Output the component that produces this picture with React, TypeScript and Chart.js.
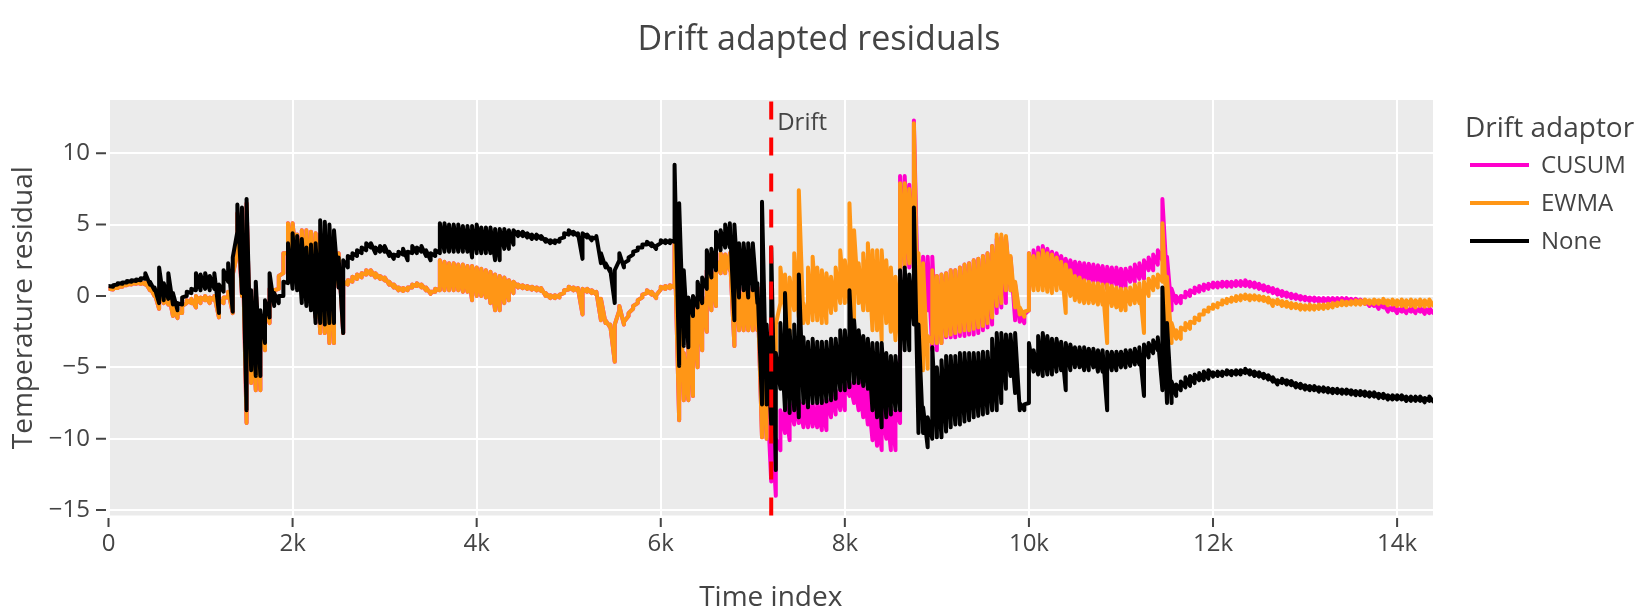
import { useEffect, useRef } from "react";
import { Chart, registerables } from "chart.js";

Chart.register(...registerables);

const TITLE = "Drift adapted residuals";
const X_TITLE = "Time index";
const Y_TITLE = "Temperature residual";
const LEGEND_TITLE = "Drift adaptor";
const DRIFT_LABEL = "Drift";
const DRIFT_AT = 7200;

// every series every 50 time steps (0 .. 14400) as the
// bottom and top of its noise band; where the trace is clean both are close
const STEP = 50;
const X_MAX = 14390;
const Y_MIN = -15.38;
const Y_MAX = 13.73;
const X_TICKS = [0, 2000, 4000, 6000, 8000, 10000, 12000, 14000];
const Y_TICKS = [-15, -10, -5, 0, 5, 10];

const SERIES_NAMES = ["CUSUM", "EWMA", "None"];
const SERIES_COLORS = ["#ff00cc", "#ff9616", "#000000"];

const noneLo = [
  0.6, 0.65, 0.8, 0.85, 0.95, 1.0, 1.05, 1.1, 1.2, 0.8,
  0.4, -0.5, -0.3, -0.2, -0.6, -1.0, -0.6, 0.0, 0.2, 0.4,
  0.4, 0.5, 0.4, 0.5, -1.2, 0.3, 1.0, -1.1, 4.5, 0.2,
  -8.0, -5.2, -5.6, -5.6, -3.3, -1.5, -0.7, -0.5, 0.0, 0.9,
  0.5, 0.4, -0.5, -0.7, -1.0, -1.9, -1.9, -2.0, -1.9, -1.9,
  0.6, -2.6, 2.0, 2.6, 2.8, 3.0, 3.2, 3.4, 3.0, 3.1,
  3.1, 2.8, 2.6, 2.8, 2.9, 2.5, 3.0, 3.0, 3.1, 2.8,
  2.5, 2.8, 3.0, 3.1, 3.1, 3.1, 3.1, 3.1, 3.1, 2.7,
  3.0, 3.0, 3.0, 3.0, 2.5, 2.5, 3.3, 3.3, 3.6, 4.2,
  4.2, 4.1, 4.0, 4.0, 4.0, 3.8, 3.7, 3.7, 3.8, 4.1,
  4.3, 4.3, 4.2, 2.6, 4.1, 3.9, 4.0, 2.3, 2.0, 1.7,
  -0.5, 2.5, 2.0, 2.5, 2.9, 3.2, 3.4, 3.6, 3.5, 3.3,
  3.7, 3.7, 3.7, 3.8, -4.9, -3.5, -3.6, -1.4, -0.8, -0.5,
  0.5, 1.3, 1.8, 3.2, 3.4, 3.4, -1.7, -0.1, 0.4, -0.1,
  0.4, -0.5, -7.6, -7.6, -9.0, -12.2, -6.5, -8.0, -8.2, -8.0,
  -8.5, -7.5, -7.8, -7.5, -7.5, -7.5, -7.4, -7.3, -7.2, -6.6,
  -6.6, -6.4, -6.1, -6.1, -6.3, -6.5, -8.0, -8.5, -9.2, -8.5,
  -8.3, -8.0, -8.0, -3.8, -3.8, -2.0, -9.6, -9.6, -10.6, -10.0,
  -9.9, -9.9, -9.5, -9.2, -9.0, -9.0, -8.8, -8.7, -8.5, -8.4,
  -8.3, -8.2, -8.0, -8.0, -7.5, -6.5, -5.6, -6.8, -8.0, -8.0,
  -7.5, -5.3, -5.5, -5.6, -5.5, -5.5, -5.3, -5.2, -6.6, -5.2,
  -5.0, -5.0, -5.2, -5.2, -5.0, -5.3, -5.3, -8.0, -5.2, -5.2,
  -5.0, -5.0, -4.9, -4.8, -4.8, -7.0, -4.3, -4.0, -3.8, -6.6,
  -7.5, -7.5, -7.0, -6.6, -6.4, -6.3, -6.1, -5.9, -5.9, -5.8,
  -5.65, -5.6, -5.6, -5.5, -5.55, -5.5, -5.5, -5.4, -5.5, -5.6,
  -5.65, -5.75, -5.85, -6.0, -6.2, -6.1, -6.2, -6.25, -6.4, -6.45,
  -6.55, -6.6, -6.6, -6.7, -6.7, -6.75, -6.8, -6.8, -6.85, -6.85,
  -6.9, -6.95, -6.95, -7.0, -7.05, -7.05, -7.15, -7.15, -7.25, -7.25,
  -7.25, -7.25, -7.35, -7.35, -7.35, -7.35, -7.45, -7.35, -7.45,
];

const noneHi = [
  0.7, 0.75, 0.9, 0.95, 1.05, 1.1, 1.15, 1.25, 1.6, 1.0,
  0.6, 2.0, 0.9, 1.6, 0.2, -0.5, -0.1, 0.3, 0.5, 1.6,
  1.5, 1.6, 1.4, 1.6, 0.8, 1.8, 2.3, 2.7, 6.4, 6.2,
  6.8, 0.4, 1.0, -1.0, -0.3, 1.6, 0.2, 0.0, 1.0, 3.7,
  4.4, 4.2, 4.0, 3.4, 3.6, 3.7, 5.3, 5.2, 5.0, 4.6,
  2.7, 2.5, 2.8, 3.0, 3.2, 3.4, 3.7, 3.7, 3.4, 3.5,
  3.5, 3.1, 2.9, 3.1, 3.3, 3.1, 3.5, 3.4, 3.5, 3.2,
  3.0, 3.2, 5.1, 5.1, 5.0, 5.0, 5.0, 4.9, 4.9, 4.9,
  5.0, 4.8, 4.8, 4.8, 4.7, 4.7, 4.7, 4.6, 4.6, 4.5,
  4.5, 4.4, 4.3, 4.3, 4.2, 4.0, 3.9, 3.9, 4.0, 4.4,
  4.6, 4.5, 4.4, 4.4, 4.3, 4.1, 4.2, 3.0, 2.3, 1.9,
  1.8, 3.0, 2.3, 2.7, 3.1, 3.4, 3.6, 3.8, 3.7, 3.5,
  3.9, 3.9, 3.9, 9.2, 6.5, 1.8, -0.1, 0.0, 1.0, 1.3,
  3.2, 3.3, 4.5, 4.6, 5.0, 5.1, 5.0, 3.7, 3.7, 3.7,
  3.7, 0.9, 6.6, -2.0, 3.4, -4.0, -1.9, 0.2, -2.4, -2.0,
  1.5, -2.9, -3.2, -3.0, -3.2, -3.2, -3.2, -3.0, -3.0, -2.4,
  -2.4, 0.4, -1.7, -2.4, -2.8, -3.0, -3.3, -3.3, -3.3, -4.0,
  -4.2, -4.2, 1.8, 2.0, 1.5, 6.2, -2.0, -7.8, -8.5, -3.6,
  -5.0, -4.5, -4.2, -4.2, -4.2, -4.0, -4.0, -4.0, -4.0, -4.0,
  -3.9, -3.9, -3.0, -2.6, -2.6, -2.7, -2.7, -2.6, -7.5, -7.6,
  -3.3, -3.8, -2.8, -2.6, -2.8, -3.0, -3.0, -3.2, -3.3, -3.4,
  -3.6, -3.6, -3.6, -3.7, -3.7, -3.8, -3.8, -3.9, -3.9, -3.9,
  -3.9, -3.8, -3.8, -3.7, -3.6, -3.4, -3.3, -3.1, -2.9, 0.6,
  -1.9, -6.0, -6.2, -6.0, -5.7, -5.6, -5.5, -5.4, -5.3, -5.2,
  -5.35, -5.3, -5.3, -5.2, -5.25, -5.2, -5.2, -5.1, -5.2, -5.3,
  -5.35, -5.45, -5.55, -5.7, -5.9, -5.8, -5.9, -5.95, -6.1, -6.15,
  -6.25, -6.3, -6.3, -6.4, -6.4, -6.45, -6.5, -6.5, -6.55, -6.55,
  -6.6, -6.65, -6.65, -6.7, -6.75, -6.75, -6.85, -6.85, -6.95, -6.95,
  -6.95, -6.95, -7.05, -7.05, -7.05, -7.05, -7.15, -7.05, -7.15,
];

const ewmaLo = [
  0.4, 0.45, 0.55, 0.65, 0.75, 0.8, 0.85, 0.85, 0.8, 0.4,
  0.0, -0.9, -0.5, -0.6, -1.4, -1.55, -1.2, -0.5, -0.5, -0.8,
  -0.5, -0.3, -0.5, -0.3, -1.5, -0.5, -0.1, -1.2, 3.0, 0.0,
  -8.9, -6.1, -6.6, -6.6, -3.8, -1.9, -0.3, 0.5, 1.6, 3.0,
  2.3, 2.0, 0.5, 0.0, -0.5, -1.5, -2.6, -2.6, -3.3, -3.3,
  0.6, -2.6, 0.8, 1.0, 1.2, 1.3, 1.5, 1.5, 1.3, 1.2,
  1.1, 0.8, 0.6, 0.4, 0.35, 0.4, 0.6, 0.7, 0.6, 0.4,
  0.15, 0.3, 0.4, 0.4, 0.4, 0.4, 0.4, 0.3, 0.3, -0.3,
  0.0, 0.0, -0.1, -0.5, -1.0, -1.0, -0.5, -0.3, 0.2, 0.6,
  0.55, 0.5, 0.45, 0.4, 0.35, 0.0, -0.15, -0.15, -0.1, 0.2,
  0.45, 0.4, 0.35, -1.3, 0.3, 0.2, 0.1, -1.7, -1.9, -2.2,
  -4.6, -1.0, -2.0, -1.4, -0.9, -0.5, -0.1, 0.2, 0.1, -0.15,
  0.45, 0.5, 0.55, 0.6, -8.7, -7.3, -7.3, -7.0, -5.0, -3.8,
  -2.5, -1.0, -0.7, 1.6, 1.6, 1.8, -3.5, -2.4, -2.4, -2.4,
  -2.4, -2.4, -9.9, -10.0, -6.1, -5.0, -0.5, -1.0, -3.5, -1.0,
  -1.5, -1.9, -1.9, -1.7, -1.7, -1.9, -1.9, -1.2, -1.0, -0.5,
  -0.5, -0.5, -1.7, -0.5, -1.0, -1.0, -2.4, -2.4, -3.1, -1.9,
  -2.5, -3.1, -3.1, 2.0, 2.3, 2.0, -4.25, -5.2, -5.1, -3.3,
  -3.3, -3.3, -2.8, -2.7, -2.6, -2.5, -2.4, -2.4, -2.3, -2.2,
  -2.1, -1.9, -1.5, -0.7, -0.5, 0.4, 0.4, -0.8, -1.3, -1.45,
  -1.0, 0.4, 0.4, 0.4, 0.3, 0.2, 0.4, 0.5, -1.2, 0.0,
  -0.3, -0.4, -0.5, -0.5, -0.5, -0.6, -0.6, -3.3, -0.7, -0.8,
  -1.0, -1.0, -0.6, -0.5, -0.5, -2.6, 0.0, 0.4, 0.6, 1.0,
  -1.7, -3.3, -3.0, -3.0, -2.4, -2.3, -1.9, -1.7, -1.3, -1.1,
  -0.9, -0.8, -0.6, -0.5, -0.4, -0.35, -0.3, -0.2, -0.3, -0.25,
  -0.3, -0.35, -0.45, -0.7, -0.55, -0.7, -0.75, -0.85, -0.85, -0.95,
  -0.95, -0.95, -0.95, -0.9, -0.9, -0.85, -0.8, -0.7, -0.65, -0.65,
  -0.6, -0.6, -0.6, -0.55, -0.55, -0.55, -0.55, -0.5, -0.65, -0.6,
  -0.7, -0.7, -0.8, -0.7, -0.8, -0.7, -0.75, -0.7, -0.75,
];

const ewmaHi = [
  0.5, 0.55, 0.65, 0.75, 0.85, 0.9, 0.95, 0.95, 0.95, 0.6,
  0.2, 0.5, 0.0, 0.3, -0.6, -1.2, -0.7, -0.3, -0.2, 0.0,
  -0.1, 0.0, -0.1, 0.0, -0.3, -0.1, 0.3, 1.5, 5.8, 5.5,
  6.5, 0.0, 0.5, -1.5, -0.8, 0.5, 0.4, 1.4, 3.0, 5.1,
  5.1, 4.3, 4.6, 4.6, 4.5, 4.4, 4.3, 4.0, 3.6, 3.2,
  3.0, 1.0, 1.1, 1.35, 1.5, 1.6, 1.8, 1.8, 1.6, 1.4,
  1.3, 1.0, 0.8, 0.6, 0.55, 0.6, 0.8, 0.9, 0.8, 0.6,
  0.3, 0.5, 2.5, 2.4, 2.3, 2.3, 2.2, 2.2, 2.1, 2.1,
  2.0, 1.9, 1.8, 1.7, 1.5, 1.4, 1.3, 1.1, 1.0, 0.8,
  0.75, 0.7, 0.65, 0.6, 0.55, 0.2, 0.05, 0.05, 0.1, 0.4,
  0.65, 0.6, 0.55, 0.5, 0.5, 0.4, 0.3, -0.2, -1.7, -2.0,
  -2.0, -0.7, -1.8, -1.2, -0.7, -0.3, 0.1, 0.4, 0.3, 0.05,
  0.65, 0.7, 0.75, 3.8, 3.0, -4.0, -0.5, -0.5, -0.1, 0.0,
  1.8, 1.8, 2.5, 3.0, 2.9, 3.0, 2.8, 0.4, 0.6, 0.6,
  0.65, 0.6, -2.4, -6.0, -3.0, -2.0, 2.0, 1.5, 1.3, 3.0,
  7.4, -0.5, 2.0, 2.75, 2.0, 1.8, 1.6, 1.35, 2.0, 3.2,
  2.5, 6.5, 4.6, 2.3, 3.0, 3.7, 3.2, 3.2, 3.2, 2.5,
  2.0, 1.35, 7.9, 7.9, 7.5, 12.1, 3.0, 2.3, -2.8, 1.8,
  1.4, 1.5, 1.6, 1.8, 1.8, 2.0, 2.2, 2.3, 2.5, 2.6,
  2.8, 3.0, 3.5, 4.3, 4.3, 4.2, 2.8, 1.0, -0.8, -1.1,
  3.0, 2.8, 3.0, 3.2, 3.0, 2.9, 2.7, 2.4, 2.2, 1.8,
  1.4, 1.3, 1.1, 1.0, 0.9, 0.9, 0.8, 0.8, 0.7, 0.6,
  0.5, 0.5, 0.6, 0.8, 0.9, 1.0, 1.2, 1.35, 1.5, 5.1,
  1.35, -1.9, -2.4, -2.2, -1.9, -1.8, -1.5, -1.3, -1.0, -0.8,
  -0.6, -0.5, -0.3, -0.2, -0.1, 0.0, 0.05, 0.1, 0.05, 0.05,
  0.0, -0.05, -0.1, -0.3, -0.25, -0.35, -0.4, -0.5, -0.55, -0.6,
  -0.65, -0.6, -0.65, -0.6, -0.6, -0.55, -0.5, -0.45, -0.35, -0.4,
  -0.35, -0.3, -0.3, -0.25, -0.3, -0.25, -0.3, -0.2, -0.3, -0.25,
  -0.3, -0.25, -0.3, -0.25, -0.3, -0.25, -0.3, -0.25, -0.3,
];

// CUSUM reads the same as EWMA up to t = 7050, after that it separates
const CUSUM_SPLIT = 142;
const cusumLoTail = [
  -9.9, -10.0, -13.0, -14.0, -10.8, -9.6, -10.1, -9.0,
  -8.9, -9.2, -9.2, -9.15, -9.2, -9.4, -9.4, -8.5, -8.3, -8.0,
  -8.0, -7.0, -7.5, -8.0, -8.5, -9.0, -10.1, -10.5, -10.8, -10.0,
  -10.8, -10.8, -8.9, 2.0, 2.0, 2.0, -1.9, -1.9, -1.0, -3.8,
  -3.8, -3.3, -2.9, -2.9, -2.9, -2.8, -2.8, -2.7, -2.7, -2.6,
  -2.4, -2.2, -2.0, -1.2, -0.8, -0.5, 0.4, -1.7, -1.8, -1.9,
  -1.0, 1.0, 1.2, 1.2, 1.4, 1.4, 1.4, 1.4, 1.3, 1.3,
  1.2, 1.2, 1.1, 1.1, 1.0, 1.0, 0.9, 0.5, 0.8, 0.8,
  0.6, 0.6, 1.0, 1.0, 1.2, 1.2, 1.8, 1.8, 2.2, 2.5,
  1.0, -1.0, -0.5, -0.5, -0.1, 0.0, 0.2, 0.3, 0.4, 0.5,
  0.6, 0.6, 0.65, 0.65, 0.65, 0.7, 0.7, 0.7, 0.65, 0.6,
  0.5, 0.4, 0.3, 0.2, 0.1, 0.0, -0.05, -0.15, -0.2, -0.25,
  -0.3, -0.35, -0.35, -0.4, -0.4, -0.4, -0.4, -0.4, -0.4, -0.4,
  -0.45, -0.45, -0.5, -0.55, -0.7, -0.7, -0.9, -0.8, -1.1, -1.0,
  -1.2, -1.1, -1.2, -1.1, -1.2, -1.1, -1.25, -1.2, -1.25,
];
const cusumHiTail = [
  -2.4, -6.0, -8.0, -10.0, -8.0, -7.5, -7.5, -7.4,
  -7.3, -7.5, -7.5, -7.6, -7.5, -7.3, -7.2, -6.8, -6.6, -6.2,
  -6.1, -6.0, -5.9, -5.7, -6.2, -6.6, -7.3, -7.5, -7.5, -7.6,
  -7.8, -8.0, 8.4, 8.4, 7.8, 12.3, 2.5, 2.75, 2.75, 2.75,
  1.4, 1.5, 1.6, 1.8, 1.8, 2.0, 2.2, 2.3, 2.5, 2.6,
  2.8, 3.0, 3.5, 4.0, 4.1, 4.0, 2.7, 0.8, -1.2, -1.3,
  3.0, 3.2, 3.4, 3.5, 3.3, 3.1, 3.0, 2.8, 2.6, 2.5,
  2.4, 2.35, 2.3, 2.25, 2.2, 2.15, 2.1, 2.05, 2.0, 2.0,
  1.9, 1.9, 2.0, 2.2, 2.3, 2.5, 2.7, 2.9, 3.2, 6.8,
  2.75, 0.5, 0.0, 0.0, 0.3, 0.4, 0.6, 0.7, 0.8, 0.85,
  0.95, 0.95, 1.0, 1.0, 1.0, 1.05, 1.05, 1.1, 1.0, 0.95,
  0.85, 0.75, 0.65, 0.55, 0.45, 0.35, 0.25, 0.15, 0.1, 0.0,
  -0.05, -0.1, -0.1, -0.15, -0.15, -0.15, -0.15, -0.15, -0.15, -0.15,
  -0.2, -0.2, -0.25, -0.3, -0.4, -0.4, -0.6, -0.5, -0.8, -0.7,
  -0.9, -0.8, -0.9, -0.8, -0.9, -0.8, -0.9, -0.85, -0.9,
];
const cusumLo = ewmaLo.slice(0, CUSUM_SPLIT).concat(cusumLoTail);
const cusumHi = ewmaHi.slice(0, CUSUM_SPLIT).concat(cusumHiTail);

const FONT = "'Open Sans', sans-serif";
const TEXT = "#444";

// each sample becomes a short vertical stroke from band bottom to band top
const toBand = (lo: number[], hi: number[]) =>
  lo.flatMap((y, i) => [
    { x: i * STEP, y },
    { x: i * STEP, y: hi[i] },
  ]);

const minus = (v: number) => (v < 0 ? "\u2212" + Math.abs(v) : String(v));

// plot background, drift marker, titles, tick marks, legend
const decor = {
  id: "decor",
  beforeDraw(chart: Chart) {
    const { ctx, chartArea: a } = chart;
    ctx.save();
    ctx.fillStyle = "#ebebeb";
    ctx.fillRect(a.left, a.top, a.right - a.left, a.bottom - a.top);
    ctx.restore();
  },
  afterDatasetsDraw(chart: Chart) {
    const { ctx, chartArea: a, scales } = chart;
    const x = scales.x.getPixelForValue(DRIFT_AT);
    ctx.save();
    ctx.strokeStyle = "#ff0000";
    ctx.lineWidth = 4;
    ctx.setLineDash([18, 18]);
    ctx.beginPath();
    ctx.moveTo(x, a.bottom);
    ctx.lineTo(x, a.top);
    ctx.stroke();
    ctx.setLineDash([]);
    ctx.fillStyle = TEXT;
    ctx.font = `24px ${FONT}`;
    ctx.textAlign = "left";
    ctx.textBaseline = "alphabetic";
    ctx.fillText(DRIFT_LABEL, x + 6, a.top + 30);
    ctx.restore();
  },
  afterDraw(chart: Chart) {
    const { ctx, chartArea: a, scales, width } = chart;
    ctx.save();
    ctx.fillStyle = TEXT;
    ctx.strokeStyle = TEXT;
    ctx.lineWidth = 2;

    // tick marks, outside, a little off the plot edge
    ctx.beginPath();
    X_TICKS.forEach((v) => {
      const px = scales.x.getPixelForValue(v);
      ctx.moveTo(px, a.bottom + 2.5);
      ctx.lineTo(px, a.bottom + 11.5);
    });
    Y_TICKS.forEach((v) => {
      const py = scales.y.getPixelForValue(v);
      ctx.moveTo(a.left - 12.5, py);
      ctx.lineTo(a.left - 2.5, py);
    });
    ctx.stroke();

    ctx.textBaseline = "alphabetic";
    ctx.textAlign = "center";
    ctx.font = `34px ${FONT}`;
    ctx.fillText(TITLE, width / 2, 50);

    ctx.font = `28px ${FONT}`;
    ctx.fillText(X_TITLE, (a.left + a.right) / 2, 606);

    ctx.save();
    ctx.translate(32, (a.top + a.bottom) / 2);
    ctx.rotate(-Math.PI / 2);
    ctx.fillText(Y_TITLE, 0, 0);
    ctx.restore();

    // legend
    ctx.textAlign = "left";
    ctx.font = `28px ${FONT}`;
    ctx.fillText(LEGEND_TITLE, 1465, 137);
    ctx.font = `24px ${FONT}`;
    ctx.lineWidth = 4;
    SERIES_NAMES.forEach((name, i) => {
      const y = 165 + i * 38;
      ctx.strokeStyle = SERIES_COLORS[i];
      ctx.beginPath();
      ctx.moveTo(1470, y);
      ctx.lineTo(1529, y);
      ctx.stroke();
      ctx.fillText(name, 1541, y + 8);
    });
    ctx.restore();
  },
};

export default function App() {
  const canvasRef = useRef<HTMLCanvasElement | null>(null);
  const chartRef = useRef<Chart | null>(null);

  useEffect(() => {
    const ctx = canvasRef.current!.getContext("2d")!;
    Chart.defaults.font.family = FONT;
    Chart.defaults.color = TEXT;

    const bands = [
      toBand(cusumLo, cusumHi),
      toBand(ewmaLo, ewmaHi),
      toBand(noneLo, noneHi),
    ];

    chartRef.current = new Chart(ctx, {
      type: "line",
      data: {
        datasets: SERIES_NAMES.map((name, i) => ({
          label: name,
          data: bands[i],
          borderColor: SERIES_COLORS[i],
          backgroundColor: SERIES_COLORS[i],
          borderWidth: 4,
          pointRadius: 0,
          tension: 0,
          borderJoinStyle: "round" as const,
          order: 3 - i, // None on top, CUSUM at the back
        })),
      },
      options: {
        animation: false,
        responsive: true,
        maintainAspectRatio: false,
        events: [],
        parsing: false,
        layout: { padding: { top: 100, right: 205, left: 0, bottom: 0 } },
        plugins: {
          legend: { display: false },
          title: { display: false },
          tooltip: { enabled: false },
        },
        scales: {
          x: {
            type: "linear",
            min: 0,
            max: X_MAX,
            afterBuildTicks: (s: any) => {
              s.ticks = X_TICKS.map((value) => ({ value }));
            },
            afterFit: (s: any) => {
              s.height = 98.5;
            },
            grid: { color: "#ffffff", lineWidth: 2, drawTicks: false },
            border: { display: false },
            ticks: {
              font: { size: 24 },
              color: TEXT,
              padding: 14,
              maxRotation: 0,
              autoSkip: false,
              callback: (v: any) => (v === 0 ? "0" : `${v / 1000}k`),
            },
          },
          y: {
            type: "linear",
            min: Y_MIN,
            max: Y_MAX,
            afterBuildTicks: (s: any) => {
              s.ticks = Y_TICKS.map((value) => ({ value }));
            },
            afterFit: (s: any) => {
              s.width = 108.5;
            },
            grid: { color: "#ffffff", lineWidth: 2, drawTicks: false },
            border: { display: false },
            ticks: {
              font: { size: 24 },
              color: TEXT,
              padding: 18.5,
              autoSkip: false,
              callback: (v: any) => minus(v),
            },
          },
        },
      },
      plugins: [decor],
    } as any);

    return () => chartRef.current?.destroy();
  }, []);

  return (
    <div style={{ position: "absolute", left: 0, top: 0, width: 1638, height: 614 }}>
      <canvas ref={canvasRef} />
    </div>
  );
}
